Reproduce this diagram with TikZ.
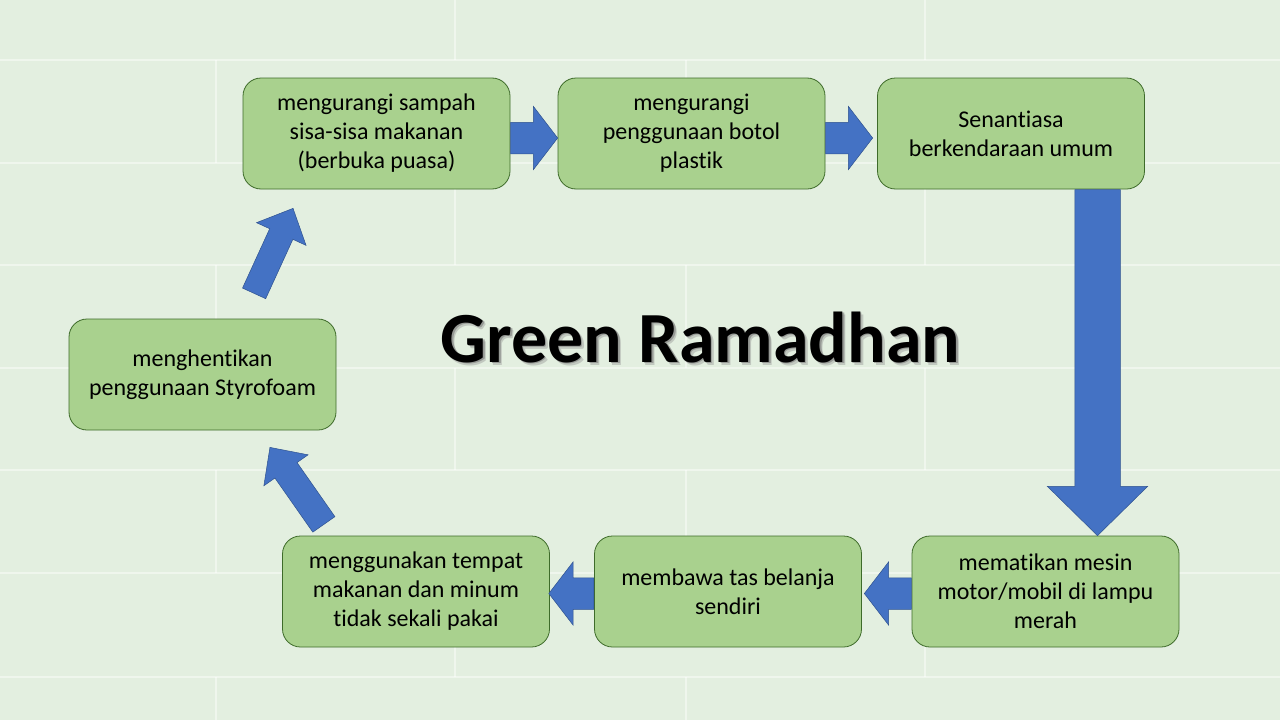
\documentclass[tikz,border=0pt]{standalone}
\usepackage{fontspec}
\setmainfont{Carlito}[Ligatures=NoCommon]
\usepackage{xcolor}
\usetikzlibrary{shapes.arrows}
\definecolor{bggreen}{HTML}{E3EFE0}
\definecolor{boxgreen}{HTML}{A9D18E}
\definecolor{boxedge}{HTML}{3E6B2A}
\definecolor{arrowblue}{HTML}{4472C4}
\definecolor{arrowedge}{HTML}{2F528F}
\tikzset{
    stepbox/.style={draw=boxedge, fill=boxgreen, line width=0.8pt, rounded corners=18pt,
        minimum width=267pt, minimum height=111pt, align=center, inner sep=0pt,
        font=\fontsize{24}{29}\selectfont},
    flowarrow/.style args={#1/#2/#3/#4}{single arrow, draw=arrowedge, fill=arrowblue,
        line width=0.5pt, inner xsep=0pt, inner ysep=#2/2, anchor=tail, minimum height=#1,
        single arrow head extend=#3, single arrow tip angle=#4},
    mortar/.style={white, opacity=0.45, line width=2.5pt},
    titletext/.style={font=\fontsize{72}{80}\selectfont\bfseries, anchor=base, inner sep=0pt}
}
\begin{document}
\begin{tikzpicture}[x=1pt,y=-1pt]
    % background
    \fill[bggreen] (0,0) rectangle (1280,720);
    \useasboundingbox (0,0) rectangle (1280,720);
    \foreach \y in {60,163,265,368,470,573,677}
        \draw[mortar] (0,\y) -- (1280,\y);
    \foreach \ya/\yb/\xo in {0/60/455, 60/163/216, 163/265/455, 265/368/216, 368/470/455, 470/573/216, 573/677/455, 677/720/216}
        \foreach \k in {0,1}
            \draw[mortar] ({\xo+470*\k},\ya) -- ({\xo+470*\k},\yb);

    % title
    \node[titletext, text=black!40, opacity=0.45] (shadow2) at (703.5,365) {Green Ramadhan};
    \node[titletext, text=black!55, opacity=0.55] (shadow) at (702,363.5) {Green Ramadhan};
    \node[titletext] (title) at (700.5,362) {Green Ramadhan};

    % top row
    \node[stepbox] (b1) at (376.5,133.5) {mengurangi sampah\\sisa-sisa makanan\\(berbuka puasa)};
    \node[stepbox] (b2) at (691.5,133.5) {mengurangi\\penggunaan botol\\plastik};
    \node[stepbox] (b3) at (1011,133.5) {Senantiasa\\berkendaraan umum};

    % bottom row
    \node[stepbox] (b4) at (1045.5,591.5) {mematikan mesin\\motor/mobil di lampu\\merah};
    \node[stepbox] (b5) at (728,591.5) {membawa tas belanja\\sendiri};
    \node[stepbox] (b6) at (416,591.5) {menggunakan tempat\\makanan dan minum\\tidak sekali pakai};

    % left
    \node[stepbox] (b7) at (202.5,374.5) {menghentikan\\penggunaan Styrofoam};

    % arrows
    \node[flowarrow=47pt/31pt/16pt/105] (a1) at ([yshift=-4.5pt]b1.east) {};
    \node[flowarrow=47pt/31pt/16pt/105] (a2) at ([yshift=-4.5pt]b2.east) {};
    \node[flowarrow=346pt/45pt/27.5pt/91, rotate=-90] (a3) at ([xshift=86.5pt]b3.south) {};
    \node[flowarrow=47pt/31pt/16pt/105, rotate=180] (a4) at ([yshift=-2pt]b4.west) {};
    \node[flowarrow=45pt/31pt/16pt/105, rotate=180] (a5) at ([yshift=-2pt]b5.west) {};
    \node[flowarrow=94pt/26.5pt/13.5pt/88, rotate=125] (a6) at ([xshift=-92pt,yshift=11pt]b6.north) {};
    \node[flowarrow=93.5pt/25pt/14.5pt/88, rotate=65.4] (a7) at ([xshift=51.5pt,yshift=25pt]b7.north) {};
\end{tikzpicture}
\end{document}
